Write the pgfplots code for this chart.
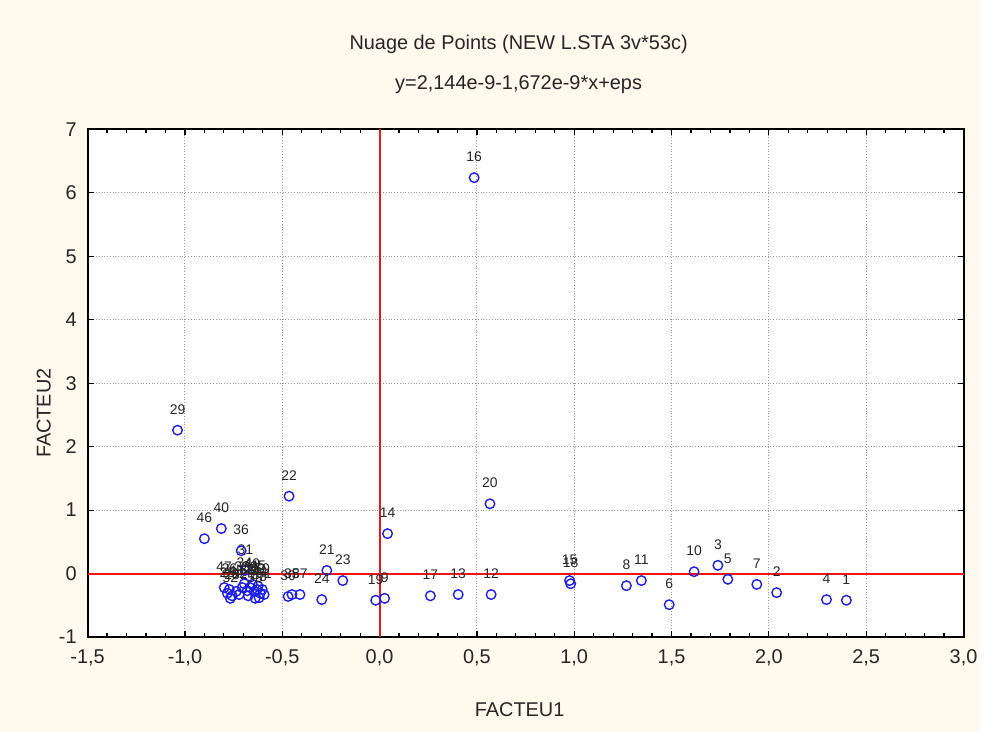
\documentclass[border=0pt]{standalone}
\usepackage{pgfplots}
\usepackage{pgfplotstable}
\pgfplotsset{compat=1.18}
\usepackage{fontspec}
\setmainfont{Liberation Sans}
\definecolor{cream}{RGB}{255,249,238}
\definecolor{ptblue}{RGB}{30,30,235}
\definecolor{gridgray}{RGB}{150,150,150}
\definecolor{zeroline}{RGB}{240,20,20}

\pgfplotstableread{
x y lab
2.398 -0.42 1
2.040 -0.30 2
1.738 0.13 3
2.296 -0.41 4
1.789 -0.09 5
1.488 -0.49 6
1.938 -0.17 7
1.268 -0.19 8
0.026 -0.39 9
1.616 0.03 10
1.345 -0.11 11
0.573 -0.33 12
0.404 -0.33 13
0.041 0.63 14
0.976 -0.11 15
0.486 6.24 16
0.261 -0.35 17
0.982 -0.16 18
-0.020 -0.42 19
0.567 1.10 20
-0.271 0.05 21
-0.465 1.22 22
-0.189 -0.11 23
-0.297 -0.41 24
-0.782 -0.31 25
-0.772 -0.25 26
-0.675 -0.35 27
-0.757 -0.35 28
-1.038 2.26 29
-0.470 -0.36 30
-0.690 0.05 31
-0.721 -0.33 32
-0.706 -0.22 33
-0.695 -0.16 34
-0.450 -0.33 35
-0.711 0.36 36
-0.409 -0.33 37
-0.680 -0.27 38
-0.665 -0.22 39
-0.813 0.71 40
-0.644 -0.28 41
-0.629 -0.25 42
-0.619 -0.38 43
-0.613 -0.31 44
-0.624 -0.20 45
-0.900 0.55 46
-0.798 -0.22 47
-0.736 -0.28 48
-0.654 -0.17 49
-0.603 -0.25 50
-0.593 -0.33 51
-0.767 -0.39 52
-0.639 -0.39 53
}\pts

\begin{document}
\begin{tikzpicture}[x=1pt,y=1pt]
\fill[cream] (0,0) rectangle (492,367.5);
\begin{axis}[
  at={(44pt,47.5pt)}, anchor=south west,
  scale only axis, width=440pt, height=255pt,
  xmin=-1.5, xmax=3, ymin=-1, ymax=7,
  xtick={-1.5,-1,-0.5,0,0.5,1,1.5,2,2.5,3},
  ytick={-1,0,1,2,3,4,5,6,7},
  minor x tick num=4,
  axis background/.style={fill=white},
  axis line style={black, line width=1pt},
  tick style={black, line width=0.6pt},
  major tick length=3pt, minor tick length=2pt,
  tick align=inside,
  xmajorgrids, ymajorgrids,
  major grid style={gridgray, densely dotted, line width=0.5pt},
  /pgf/number format/assume math mode=true,
  xticklabel style={/pgf/number format/use comma, /pgf/number format/fixed, /pgf/number format/fixed zerofill, /pgf/number format/precision=1, yshift=-3pt},
  ticklabel style={font=\fontsize{10}{12}\selectfont, text=black!85},
  yticklabel style={xshift=-2pt},
  clip=false,
]
\addplot[draw=zeroline, line width=1pt, mark=none] coordinates {(0,-1) (0,7)};
\addplot[draw=zeroline, line width=1pt, mark=none] coordinates {(-1.5,0) (3,0)};
\addplot[only marks, mark=o, mark size=2.4pt, draw=ptblue, mark options={draw=ptblue, line width=0.7pt},
  point meta=explicit symbolic, nodes near coords,
  every node near coord/.append style={anchor=base, inner sep=0pt, yshift=8pt,
    font=\fontsize{7}{8}\selectfont, text=black!85}]
  table[x=x, y=y, meta=lab] {\pts};
\end{axis}
\node[font=\fontsize{10}{12}\selectfont, text=black!85] at (260.5,345) {Nuage de Points (NEW L.STA 3v*53c)};
\node[font=\fontsize{10}{12}\selectfont, text=black!85] at (260.5,325) {y=2,144e-9-1,672e-9*x+eps};
\node[font=\fontsize{10}{12}\selectfont, text=black!85, rotate=90] at (22,160) {FACTEU2};
\node[font=\fontsize{10}{12}\selectfont, text=black!85] at (261,11) {FACTEU1};
\end{tikzpicture}
\end{document}
